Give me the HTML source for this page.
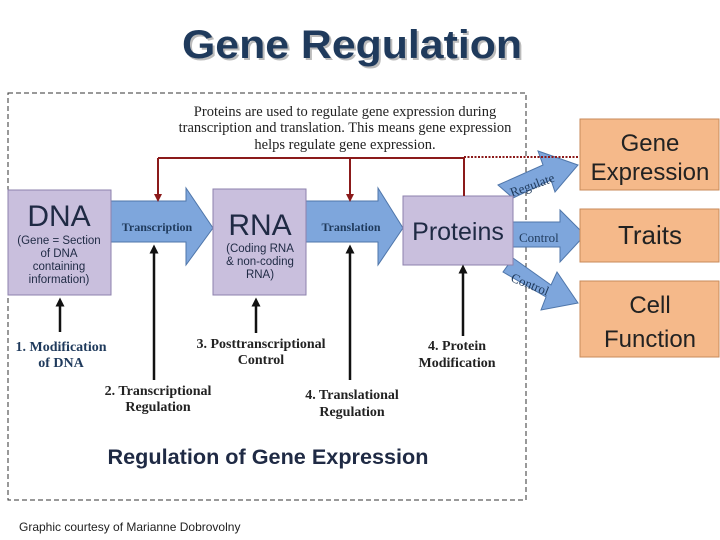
<!DOCTYPE html>
<html><head><meta charset="utf-8"><style>
html,body{margin:0;padding:0;background:#fff;width:720px;height:540px;overflow:hidden}
</style></head><body>
<svg width="720" height="540" viewBox="0 0 720 540" xmlns="http://www.w3.org/2000/svg">
<defs>
<marker id="rh" markerWidth="8" markerHeight="8" refX="4" refY="4" orient="auto" markerUnits="userSpaceOnUse"><path d="M0,0 L8,4 L0,8 Z" fill="#8b1a1a"/></marker>
<marker id="bh" markerWidth="9" markerHeight="9" refX="4.5" refY="4.5" orient="auto" markerUnits="userSpaceOnUse"><path d="M0,0 L9,4.5 L0,9 Z" fill="#111"/></marker>
</defs>
<text x="354" y="60" text-anchor="middle" font-family="Liberation Sans, sans-serif" font-weight="bold" font-size="40" fill="#bbb" textLength="340" lengthAdjust="spacingAndGlyphs">Gene Regulation</text>
<text x="352" y="58" text-anchor="middle" font-family="Liberation Sans, sans-serif" font-weight="bold" font-size="40" fill="#1f3a5c" textLength="340" lengthAdjust="spacingAndGlyphs">Gene Regulation</text>
<rect x="8" y="93" width="518" height="407" fill="none" stroke="#333" stroke-dasharray="5,3"/>
<g font-family="Liberation Serif, serif" font-size="14.5" fill="#222" text-anchor="middle">
<text x="345" y="116">Proteins are used to regulate gene expression during</text>
<text x="345" y="132">transcription and translation.  This means gene expression</text>
<text x="345" y="149">helps regulate gene expression.</text>
</g>
<g fill="#7ea6dc" stroke="#4f76aa" stroke-width="1">
<path d="M111,201 L186,201 L186,188 L213,228 L186,265 L186,242 L111,242 Z"/>
<path d="M306,201 L378,201 L378,188 L403,228 L378,265 L378,242 L306,242 Z"/>
<path d="M513,222 L560,222 L560,210 L585,235 L560,262 L560,247 L513,247 Z"/>
<path d="M498,185 L543,165 L538,151 L578,165 L555,192 L551,180 L513,198 Z"/>
<path d="M513,258 L551,285 L557,272 L578,303 L541,310 L546,297 L503,272 Z"/>
</g>
<g font-family="Liberation Serif, serif" font-weight="bold" font-size="12" fill="#1f3a5c" text-anchor="middle">
<text x="157" y="231">Transcription</text>
<text x="351" y="231">Translation</text>
</g>
<g font-family="Liberation Serif, serif" font-size="13" fill="#1f3a5c">
<text x="519" y="242">Control</text>
<text x="512" y="197" transform="rotate(-20 512 197)">Regulate</text>
<text x="510" y="281" transform="rotate(22 510 281)">Control</text>
</g>
<g fill="#c9bfdd" stroke="#8d82ad" stroke-width="1">
<rect x="8" y="190" width="103" height="105"/>
<rect x="213" y="189" width="93" height="106"/>
<rect x="403" y="196" width="110" height="69"/>
</g>
<g font-family="Liberation Sans, sans-serif" fill="#1f2a44" text-anchor="middle">
<text x="59" y="226" font-size="30">DNA</text>
<text x="59" y="244" font-size="11.5">(Gene = Section</text>
<text x="59" y="257" font-size="11.5">of DNA</text>
<text x="59" y="270" font-size="11.5">containing</text>
<text x="59" y="283" font-size="11.5">information)</text>
<text x="260" y="235" font-size="30">RNA</text>
<text x="260" y="252" font-size="11.5">(Coding RNA</text>
<text x="260" y="265" font-size="11.5">&amp; non-coding</text>
<text x="260" y="278" font-size="11.5">RNA)</text>
<text x="458" y="240" font-size="25">Proteins</text>
</g>
<path d="M158,158 L464,158 L464,196" fill="none" stroke="#8b1a1a" stroke-width="2"/>
<line x1="158" y1="158" x2="158" y2="198" stroke="#8b1a1a" stroke-width="2" marker-end="url(#rh)"/>
<line x1="350" y1="158" x2="350" y2="198" stroke="#8b1a1a" stroke-width="2" marker-end="url(#rh)"/>
<line x1="464" y1="157" x2="590" y2="157" stroke="#8b1a1a" stroke-width="2" stroke-dasharray="2,1.5"/>
<g fill="#f5b98a" stroke="#c88a5a" stroke-width="1">
<rect x="580" y="119" width="139" height="71"/>
<rect x="580" y="209" width="139" height="53"/>
<rect x="580" y="281" width="139" height="76"/>
</g>
<g font-family="Liberation Sans, sans-serif" fill="#222" text-anchor="middle" font-size="24">
<text x="650" y="151">Gene</text>
<text x="650" y="180">Expression</text>
<text x="650" y="244" font-size="26">Traits</text>
<text x="650" y="313">Cell</text>
<text x="650" y="347">Function</text>
</g>
<g stroke="#111" stroke-width="2.5" marker-end="url(#bh)">
<line x1="60" y1="332" x2="60" y2="302"/>
<line x1="154" y1="380" x2="154" y2="249"/>
<line x1="256" y1="333" x2="256" y2="302"/>
<line x1="350" y1="380" x2="350" y2="249"/>
<line x1="463" y1="336" x2="463" y2="269"/>
</g>
<g font-family="Liberation Serif, serif" font-weight="bold" font-size="14" fill="#222" text-anchor="middle">
<text x="61" y="351" fill="#1f3a5c">1. Modification</text>
<text x="61" y="367" fill="#1f3a5c">of DNA</text>
<text x="158" y="395">2. Transcriptional</text>
<text x="158" y="411">Regulation</text>
<text x="261" y="348">3. Posttranscriptional</text>
<text x="261" y="364">Control</text>
<text x="352" y="399">4. Translational</text>
<text x="352" y="416">Regulation</text>
<text x="457" y="350">4. Protein</text>
<text x="457" y="367">Modification</text>
</g>
<text x="268" y="464" text-anchor="middle" font-family="Liberation Sans, sans-serif" font-weight="bold" font-size="21" fill="#1f2a44" textLength="321" lengthAdjust="spacingAndGlyphs">Regulation of Gene Expression</text>
<text x="19" y="531" font-family="Liberation Sans, sans-serif" font-size="12" fill="#222">Graphic courtesy of Marianne Dobrovolny</text>
</svg>
</body></html>
